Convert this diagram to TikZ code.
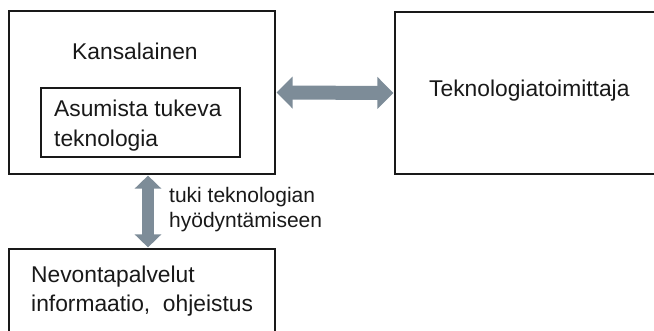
\documentclass[tikz,border=0pt]{standalone}
\usepackage{fontspec}
\setmainfont{Liberation Sans}
\usetikzlibrary{arrows.meta}
\definecolor{arrowgray}{RGB}{125,140,152}
\definecolor{ink}{RGB}{25,25,25}
\begin{document}
\begin{tikzpicture}[x=1pt,y=-1pt,
  box/.style={draw=ink,line width=1.6pt,inner sep=0pt,
    minimum width=#1},
  txt/.style={inner sep=0pt,anchor=base west,text=ink,
    font=\fontsize{22.8}{30}\selectfont},
  smalltxt/.style={inner sep=0pt,anchor=base west,text=ink,
    font=\fontsize{21}{25}\selectfont},
  fatarrow/.style={draw=arrowgray,line width=14pt,
    {Triangle[length=16pt,width=31pt]}-{Triangle[length=16pt,width=31pt]}},
  fatarrowv/.style={draw=arrowgray,line width=12pt,
    {Triangle[length=13pt,width=26pt]}-{Triangle[length=13pt,width=26pt]}}
]
\useasboundingbox (0,0) rectangle (654,331);
\clip (0,0) rectangle (654,331);

% boxes
\node[box=266pt,minimum height=163pt] (kans) at (142,92.5) {};
\node[box=199pt,minimum height=69pt]  (asu)  at (140.5,122.5) {};
\node[box=265pt,minimum height=162pt] (tek)  at (527.5,93) {};
\node[box=266pt,minimum height=101pt] (nev)  at (142,299.5) {};

% texts
\node[txt] (kansT) at (72,60) {Kansalainen};
\node[txt] (asuT1) at (54,117) {Asumista tukeva};
\node[txt] (asuT2) at (54,147) {teknologia};
\node[txt] (tekT)  at (429,97) {Teknologiatoimittaja};
\node[txt] (nevT1) at (31,283) {Nevontapalvelut};
\node[txt] (nevT2) at (31,312) {informaatio,\ \ ohjeistus};
\node[smalltxt] (tukiT1) at (169,203) {tuki teknologian};
\node[smalltxt] (tukiT2) at (169,228) {hyödyntämiseen};

% connectors
\draw[fatarrow] ([xshift=0.8pt]kans.east) -- ([xshift=-0.8pt]tek.west);
\draw[fatarrowv] ([xshift=6pt,yshift=-0.8pt]kans.south) -- ([xshift=6pt,yshift=0.8pt]nev.north);
\end{tikzpicture}
\end{document}
